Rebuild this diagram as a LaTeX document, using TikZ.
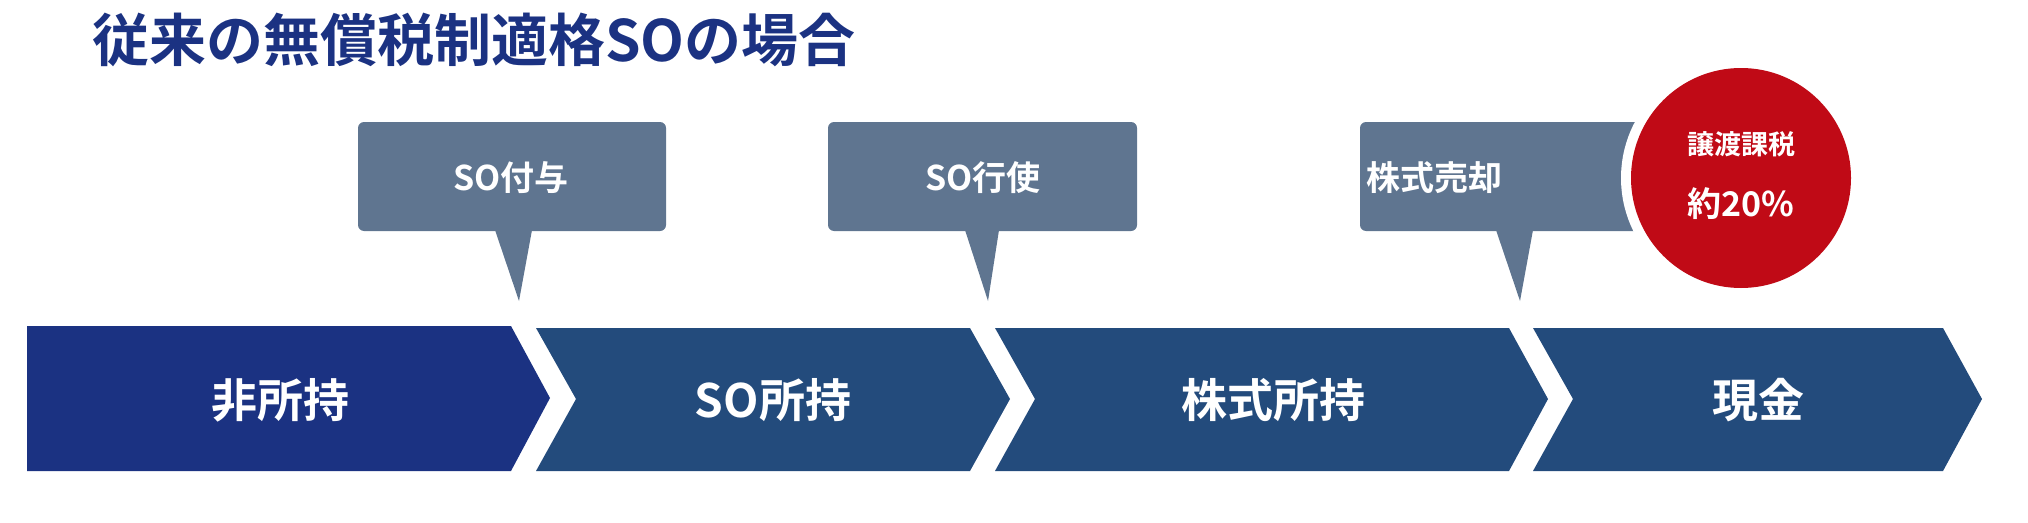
\documentclass[tikz,border=0pt]{standalone}
\usepackage{fontspec}
\newfontfamily\jp{Noto Sans CJK JP Bold}
\definecolor{navy}{HTML}{1B3282}
\definecolor{steel}{HTML}{234B7C}
\definecolor{bub}{HTML}{5F7590}
\definecolor{red}{HTML}{C00A16}
\begin{document}
\begin{tikzpicture}[x=1pt,y=-1pt,
  lbl/.style={text=white,font=\jp\fontsize{46}{50}\selectfont,inner sep=0pt},
  blbl/.style={text=white,font=\jp\fontsize{34}{38}\selectfont,inner sep=0pt},
  bubble/.style={fill=bub,rounded corners=6pt}]
\useasboundingbox (0,0) rectangle (2028,522);
% chevrons
\fill[navy] (27,326) -- (511,326) -- (550,398) -- (511,471) -- (27,471) -- cycle;
\fill[steel] (536,328) -- (970,328) -- (1010,399) -- (970,471) -- (536,471) -- (576,399) -- cycle;
\fill[steel] (995,328) -- (1509,328) -- (1548,399) -- (1509,471) -- (995,471) -- (1035,399) -- cycle;
\fill[steel] (1533,328) -- (1943,328) -- (1982,399) -- (1943,471) -- (1533,471) -- (1573,399) -- cycle;
\node[lbl] (c1) at (280,400) {非所持};
\node[lbl] (c2) at (773,400) {SO所持};
\node[lbl] (c3) at (1273,400) {株式所持};
\node[lbl] (c4) at (1758,400) {現金};
% bubbles
\fill[bubble] (358,122) rectangle (666,231);
\fill[bub] (495,230) -- (532,230) -- (519,301) -- cycle;
\node[blbl] (b1) at (511,178) {SO付与};
\fill[bubble] (828,122) rectangle (1137,231);
\fill[bub] (965,230) -- (999,230) -- (988,301) -- cycle;
\node[blbl] (b2) at (983,178) {SO行使};
\fill[bubble] (1360,122) rectangle (1680,231);
\fill[bub] (1496,230) -- (1533,230) -- (1520,301) -- cycle;
\node[blbl] (b3) at (1434,178) {株式売却};
% circle
\fill[white] (1741,178) circle (120);
\fill[red] (1741,178) circle (110);
\node[text=white,font=\jp\fontsize{27}{30}\selectfont,inner sep=0pt] (r1) at (1741,144) {譲渡課税};
\node[blbl] (r2) at (1741,204) {約20\%};
% title
\node[anchor=west,text=navy,font=\jp\fontsize{57}{60}\selectfont,inner sep=0pt] (t) at (92,40) {従来の無償税制適格SOの場合};
\end{tikzpicture}
\end{document}
